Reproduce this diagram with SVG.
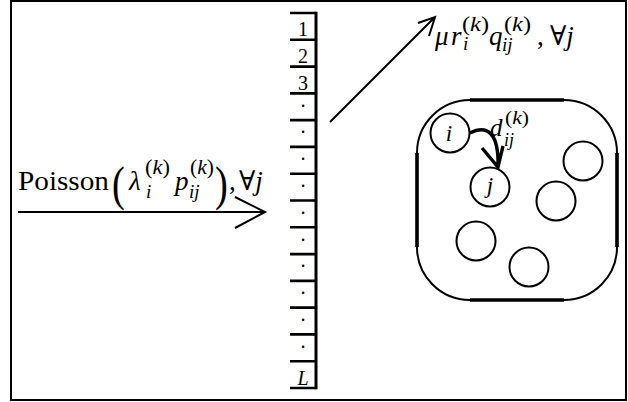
<svg xmlns="http://www.w3.org/2000/svg" width="628" height="402" viewBox="0 0 628 402">
<style>
.t{font-family:'Liberation Serif','Times New Roman','DejaVu Serif',serif;fill:#000}
.it{font-style:italic}
.ln{fill:none;stroke:#000;stroke-width:2}
.q{fill:none;stroke:#000;stroke-width:2.6}
.c{fill:none;stroke:#000;stroke-width:2}
</style>
<rect width="628" height="402" fill="#fff"/>
<g id="frame"><rect x="11" y="1" width="615" height="399" class="ln"/></g>

<g id="queue">
<path class="q" d="M290,13H316M290,39.8H316M290,66.6H316M290,93.4H316M290,120.1H316M290,146.9H316M290,173.7H316M290,200.5H316M290,227.3H316M290,254.1H316M290,280.9H316M290,307.6H316M290,334.4H316M290,361.2H316M290,388H316"/>
<path d="M316,11.7V389.3" fill="none" stroke="#000" stroke-width="3"/>
<g class="t" font-family="Liberation Serif, serif" font-size="20" text-anchor="middle">
<text x="303" y="36.3">1</text>
<text x="303" y="63.1">2</text>
<text x="303" y="89.9">3</text>
<text x="303" y="112.6">·</text>
<text x="303" y="139.4">·</text>
<text x="303" y="166.2">·</text>
<text x="303" y="193">·</text>
<text x="303" y="219.8">·</text>
<text x="303" y="246.6">·</text>
<text x="303" y="273.4">·</text>
<text x="303" y="300.1">·</text>
<text x="303" y="326.9">·</text>
<text x="303" y="353.7">·</text>
<text x="303" y="384.5" class="it">L</text>
</g>
</g>

<g id="pool">
<rect x="417" y="100" width="200" height="200" rx="53" class="c"/>
<path d="M417,153V247M617,153V247M470,100H564M470,300H564" fill="none" stroke="#000" stroke-width="3.6"/>
</g>
<g id="node-i"><circle cx="450" cy="133" r="19.5" class="c"/><text class="t it" font-family="Liberation Serif, serif" x="449" y="141" font-size="23" text-anchor="middle">i</text></g>
<g id="node-j"><circle cx="490" cy="187" r="19.5" class="c"/><text class="t it" font-family="Liberation Serif, serif" x="490" y="193" font-size="23" text-anchor="middle">j</text></g>
<g id="node-3"><circle cx="583" cy="161" r="19.5" class="c"/></g>
<g id="node-4"><circle cx="556" cy="201" r="19.5" class="c"/></g>
<g id="node-5"><circle cx="476" cy="241" r="19.5" class="c"/></g>
<g id="node-6"><circle cx="529" cy="267" r="19.5" class="c"/></g>

<g id="connectors">
<path class="ln" d="M18,212H265M235,197L265,212L235,228"/>
<path class="ln" d="M330,122L435,17M418,23L435,17L429,36"/>
<path d="M470,133C488,124 499,134 498,167M482,148L498,167L503,146" fill="none" stroke="#000" stroke-width="3.4"/>
</g>

<g id="label-poisson" class="t" font-family="Liberation Serif, serif" font-size="27">
<text x="18" y="190" textLength="91" lengthAdjust="spacingAndGlyphs">Poisson</text>
<text x="112" y="200" font-size="48" transform="translate(112,200) scale(0.8,1) translate(-112,-200)">(</text>
<text x="129" y="190" class="it">λ</text>
<text x="145" y="174" font-size="20" textLength="25" lengthAdjust="spacingAndGlyphs">(<tspan class="it">k</tspan>)</text>
<text x="146" y="198" font-size="19" class="it">i</text>
<text x="175" y="190" class="it">p</text>
<text x="190" y="174" font-size="20" textLength="24" lengthAdjust="spacingAndGlyphs">(<tspan class="it">k</tspan>)</text>
<text x="189" y="198" font-size="19" class="it">ij</text>
<text x="215" y="200" font-size="48" transform="translate(215,200) scale(0.8,1) translate(-215,-200)">)</text>
<text x="229" y="190">,</text>
<text x="239" y="190">∀<tspan class="it">j</tspan></text>
</g>

<g id="label-service" class="t" font-family="Liberation Serif, serif" font-size="27">
<text x="435" y="45" class="it">μ</text>
<text x="451" y="45" class="it">r</text>
<text x="462" y="31" font-size="20" textLength="27" lengthAdjust="spacingAndGlyphs">(<tspan class="it">k</tspan>)</text>
<text x="463" y="50" font-size="19" class="it">i</text>
<text x="489" y="45" class="it">q</text>
<text x="504" y="31" font-size="20" textLength="27" lengthAdjust="spacingAndGlyphs">(<tspan class="it">k</tspan>)</text>
<text x="502" y="51" font-size="19" class="it">ij</text>
<text x="537" y="45">,</text>
<text x="550" y="45">∀<tspan class="it">j</tspan></text>
</g>

<g id="label-d" class="t" font-family="Liberation Serif, serif" font-size="25">
<text x="490" y="136" class="it">d</text>
<text x="505" y="124" font-size="18" textLength="24" lengthAdjust="spacingAndGlyphs">(<tspan class="it">k</tspan>)</text>
<text x="504" y="146" font-size="18" class="it">ij</text>
</g>
</svg>
